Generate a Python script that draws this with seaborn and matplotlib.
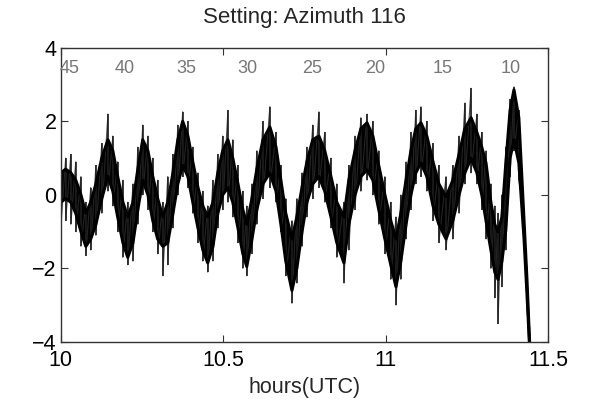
import numpy as np
import pandas as pd
import matplotlib.pyplot as plt
import seaborn as sns

# values (hours UTC)
hours = [10.000, 10.015, 10.031, 10.046, 10.062, 10.077, 10.092, 10.108, 10.126, 10.145,
         10.160, 10.175, 10.191, 10.206, 10.222, 10.237, 10.252, 10.268, 10.283, 10.298,
         10.314, 10.329, 10.345, 10.360, 10.375, 10.391, 10.406, 10.422, 10.437, 10.452,
         10.468, 10.483, 10.498, 10.514, 10.529, 10.545, 10.560, 10.572, 10.588, 10.603,
         10.622, 10.643, 10.662, 10.677, 10.692, 10.711, 10.726, 10.742, 10.757, 10.775,
         10.794, 10.812, 10.831, 10.849, 10.871, 10.886, 10.905, 10.923, 10.942, 10.960,
         10.978, 10.997, 11.015, 11.031, 11.046, 11.062, 11.077, 11.092, 11.108, 11.126,
         11.145, 11.163, 11.185, 11.206, 11.225, 11.243, 11.262, 11.280, 11.295, 11.308,
         11.323, 11.335, 11.345, 11.357, 11.369, 11.382, 11.394, 11.409, 11.425, 11.434,
         11.443]

# dense core of the trace (upper / lower edge)
core_hi = [0.6, 0.7, 0.6, 0.4, 0.0, -0.5, -0.2, 0.3, 1.0, 1.5,
           1.2, 0.5, -0.2, -0.6, -0.2, 0.7, 1.5, 1.2, 0.5, -0.1,
           -0.6, -0.2, 0.6, 1.5, 2.0, 1.6, 0.9, 0.2, -0.3, -0.6,
           -0.2, 0.6, 1.2, 1.5, 1.0, 0.3, -0.4, -0.8, -0.1, 0.7,
           1.5, 1.85, 1.3, 0.4, -0.5, -1.2, -0.6, 0.2, 0.9, 1.5,
           1.6, 1.2, 0.5, -0.2, -0.6, 0.4, 1.2, 1.8, 1.96, 1.6,
           0.8, 0.0, -0.7, -1.2, -0.5, 0.4, 1.2, 1.8, 1.96, 1.6,
           0.9, 0.3, -0.05, 0.4, 1.1, 1.8, 2.1, 1.7, 1.3, 0.87,
           -0.2, -0.8, -1.0, -0.6, 0.87, 2.3, 2.86, 2.1, -0.7, -2.3,
           -4.2]
core_lo = [-0.2, -0.1, -0.2, -0.5, -1.0, -1.4, -1.2, -0.8, -0.1, 0.5,
           0.1, -0.6, -1.3, -1.7, -1.3, -0.4, 0.4, 0.0, -0.7, -1.2,
           -1.4, -1.3, -0.5, 0.3, 0.8, 0.5, -0.2, -0.9, -1.5, -1.85,
           -1.4, -0.5, 0.0, 0.2, -0.2, -0.9, -1.6, -1.95, -1.2, -0.4,
           0.3, 0.6, 0.1, -0.8, -1.8, -2.6, -2.0, -1.0, -0.2, 0.3,
           0.5, 0.1, -0.6, -1.3, -1.85, -0.8, 0.0, 0.5, 0.68, 0.4,
           -0.4, -1.2, -1.9, -2.5, -1.8, -0.8, 0.0, 0.6, 0.87, 0.5,
           -0.3, -0.8, -1.2, -0.7, 0.0, 0.6, 1.0, 0.6, 0.0, -0.7,
           -1.5, -2.1, -2.3, -1.8, -0.95, 1.0, 1.5, 0.87, -1.2, -2.7,
           -4.3]

# spike tips beyond the core
spike_hi = [0.95, 1.0, 1.1, 0.9, 0.5, -0.2, 0.2, 0.8, 1.4, 2.2,
            1.6, 0.9, 0.4, -0.2, 0.3, 1.3, 1.9, 1.6, 1.0, 0.4,
            -0.2, 0.5, 1.1, 1.9, 2.26, 2.0, 1.3, 0.6, 0.1, -0.3,
            0.4, 1.1, 1.6, 2.3, 1.5, 0.8, 0.1, -0.3, 0.3, 1.2,
            2.0, 2.4, 1.7, 0.8, -0.1, -0.7, -0.1, 0.6, 1.3, 1.9,
            2.26, 1.7, 1.0, 0.3, -0.2, 0.8, 1.6, 2.1, 2.2, 2.0,
            1.2, 0.5, -0.2, -0.6, 0.0, 0.9, 1.7, 2.3, 2.4, 2.0,
            1.4, 0.8, 0.5, 0.8, 1.6, 2.5, 2.9, 2.2, 1.7, 1.2,
            0.3, -0.3, -0.5, 0.0, 1.3, 2.6, 2.94, 2.3, -0.4, -2.0,
            -4.2]
spike_lo = [-0.9, -0.7, -0.8, -1.0, -1.4, -1.65, -1.5, -1.1, -0.5, 0.1,
            -0.3, -1.0, -1.7, -1.9, -1.8, -0.8, 0.0, -0.4, -1.0, -1.6,
            -2.2, -1.9, -0.9, 0.0, 0.5, 0.2, -0.5, -1.3, -1.8, -2.1,
            -1.8, -0.9, -0.4, -0.2, -0.6, -1.3, -2.0, -2.2, -1.6, -0.8,
            -0.1, 0.2, -0.2, -1.0, -2.2, -2.95, -2.4, -1.4, -0.6, -0.1,
            0.2, -0.2, -0.9, -1.7, -2.4, -1.5, -0.4, 0.1, 0.4, 0.0,
            -0.8, -1.6, -2.3, -3.0, -2.3, -1.2, -0.4, 0.3, 0.5, 0.1,
            -0.7, -1.3, -1.5, -1.2, -0.5, 0.3, 0.6, 0.3, -0.4, -1.2,
            -2.0, -2.8, -3.5, -2.5, -1.5, 0.5, 1.2, 0.4, -1.3, -3.0,
            -4.3]

# elevation labels along the top of the panel
elev_labels = ['45', '40', '35', '30', '25', '20', '15', '10']
elev_hours = [10.028, 10.197, 10.385, 10.575, 10.772, 10.966, 11.175, 11.385]

df = pd.DataFrame({'hours': hours, 'core_hi': core_hi, 'core_lo': core_lo,
                   'spike_hi': spike_hi, 'spike_lo': spike_lo})

# trace that runs through the spike tips, upper then lower at each reading
trace = pd.DataFrame({
    'hours': np.repeat(df['hours'].to_numpy(), 2),
    'value': np.column_stack([df['spike_hi'], df['spike_lo']]).ravel(),
})

sns.set_theme(style="ticks")
plt.rcParams['font.family'] = ['Liberation Sans', 'DejaVu Sans']

fig = plt.figure(figsize=(6.02, 4.09), dpi=100)
ax = fig.add_axes([0.101, 0.164, 0.81, 0.719])

ax.plot(trace['hours'], trace['value'], color='#2a2a2a', lw=0.8, alpha=0.85)
ax.vlines(df['hours'], df['spike_lo'], df['spike_hi'], color='#1a1a1a', lw=1.1)
ax.fill_between(df['hours'], df['core_lo'], df['core_hi'], color='black', lw=0)
sns.lineplot(data=df, x='hours', y='core_hi', color='black', lw=2.2, ax=ax)
sns.lineplot(data=df, x='hours', y='core_lo', color='black', lw=2.2, ax=ax)

for lab, h in zip(elev_labels, elev_hours):
    ax.text(h, 3.45, lab, color='#777777', fontsize=13, ha='center', va='center')

ax.set_xlim(10, 11.5)
ax.set_ylim(-4, 4)
ax.set_xticks([10, 10.5, 11, 11.5])
ax.set_xticklabels(['10', '10.5', '11', '11.5'])
ax.set_yticks([-4, -2, 0, 2, 4])
ax.tick_params(direction='in', top=True, right=True, length=5, width=0.8,
               labelsize=15.5, pad=3, colors='#333333', labelcolor='black')
ax.tick_params(axis='x', pad=6)
for s in ax.spines.values():
    s.set_linewidth(1.0)
    s.set_color('#333333')

ax.set_title('Setting: Azimuth 116', fontsize=16, pad=18)
ax.set_xlabel('hours(UTC)', fontsize=15.5, labelpad=4)
ax.set_ylabel('')

fig.savefig('out.png', dpi=100)
